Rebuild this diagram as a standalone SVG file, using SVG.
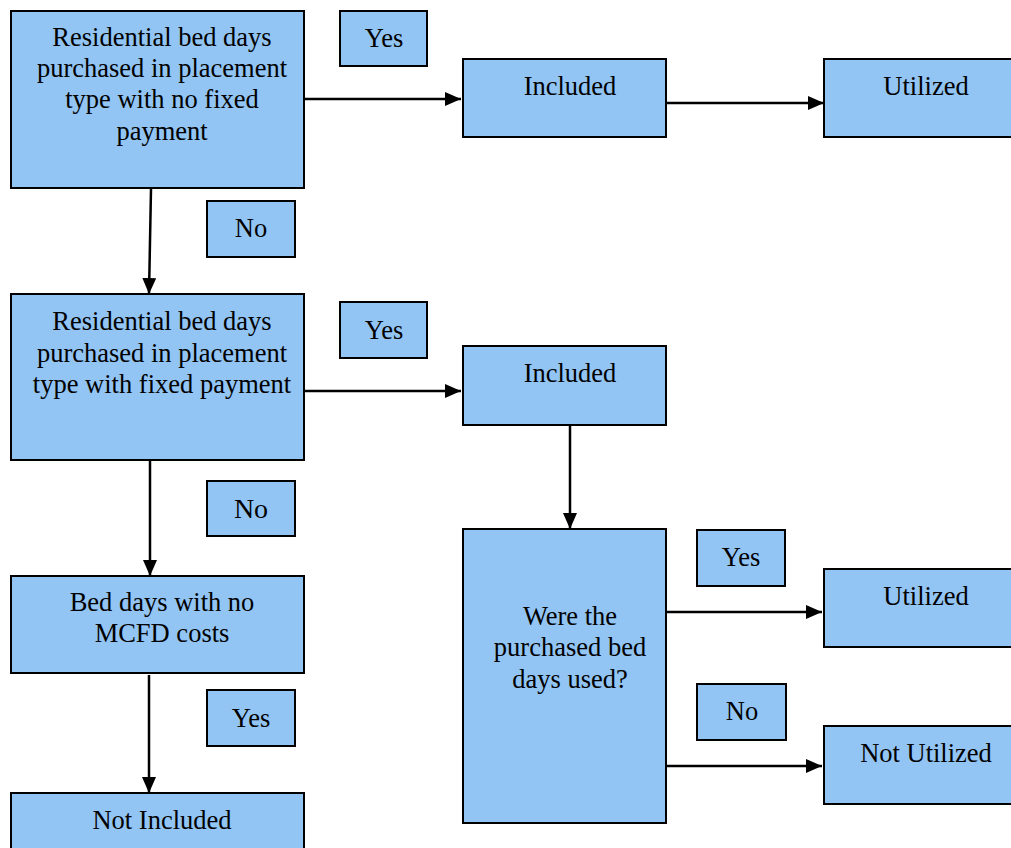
<svg xmlns="http://www.w3.org/2000/svg" width="1011" height="848" viewBox="0 0 1011 848">
<style>
.b{fill:#92C5F4;stroke:#000;stroke-width:2}
.t{font-family:"Liberation Serif","Times New Roman",serif;font-size:26.5px;fill:#000;text-anchor:middle}
.c{stroke:#000;stroke-width:2.5;fill:none}
</style>
<defs>
<marker id="a" viewBox="0 0 16 14" refX="16" refY="7" markerWidth="16" markerHeight="14" markerUnits="userSpaceOnUse" orient="auto"><path d="M0,0 L16,7 L0,14 z" fill="#000"/></marker>
</defs>
<rect width="1011" height="848" fill="#fff"/>
<g id="connectors">
<line class="c" x1="305" y1="99" x2="461" y2="99" marker-end="url(#a)"/>
<line class="c" x1="667" y1="103" x2="824" y2="103" marker-end="url(#a)"/>
<line class="c" x1="151" y1="189" x2="149" y2="294" marker-end="url(#a)"/>
<line class="c" x1="305" y1="391" x2="461" y2="391" marker-end="url(#a)"/>
<line class="c" x1="150" y1="461" x2="150" y2="576" marker-end="url(#a)"/>
<line class="c" x1="149" y1="675" x2="149" y2="793" marker-end="url(#a)"/>
<line class="c" x1="570" y1="423" x2="570" y2="529" marker-end="url(#a)"/>
<line class="c" x1="666" y1="612" x2="822" y2="612" marker-end="url(#a)"/>
<line class="c" x1="666" y1="766" x2="822" y2="766" marker-end="url(#a)"/>
</g>
<g id="n1"><rect class="b" x="11" y="11" width="293" height="177"/>
<text class="t"><tspan x="162" y="46">Residential bed days</tspan><tspan x="162" y="77">purchased in placement</tspan><tspan x="162" y="108">type with no fixed</tspan><tspan x="162" y="140">payment</tspan></text></g>
<g id="yes1"><rect class="b" x="340" y="11" width="87" height="55"/><text class="t" x="384" y="47">Yes</text></g>
<g id="inc1"><rect class="b" x="463" y="59" width="203" height="78"/><text class="t" x="570" y="95">Included</text></g>
<g id="util1"><rect class="b" x="824" y="59" width="190" height="78"/><text class="t" x="926" y="95">Utilized</text></g>
<g id="no1"><rect class="b" x="207" y="201" width="88" height="56"/><text class="t" x="251" y="237">No</text></g>
<g id="n2"><rect class="b" x="11" y="294" width="293" height="166"/>
<text class="t"><tspan x="162" y="330">Residential bed days</tspan><tspan x="162" y="362">purchased in placement</tspan><tspan x="162" y="393">type with fixed payment</tspan></text></g>
<g id="yes2"><rect class="b" x="340" y="302" width="87" height="56"/><text class="t" x="384" y="339">Yes</text></g>
<g id="inc2"><rect class="b" x="463" y="346" width="203" height="79"/><text class="t" x="570" y="382">Included</text></g>
<g id="no2"><rect class="b" x="207" y="481" width="88" height="55"/><text class="t" x="251" y="518" style="font-size:28px">No</text></g>
<g id="n3"><rect class="b" x="11" y="576" width="293" height="97"/>
<text class="t"><tspan x="162" y="611">Bed days with no</tspan><tspan x="162" y="642">MCFD costs</tspan></text></g>
<g id="yes3"><rect class="b" x="207" y="690" width="88" height="56"/><text class="t" x="251" y="727">Yes</text></g>
<g id="n4"><rect class="b" x="11" y="793" width="293" height="60"/><text class="t" x="162" y="829">Not Included</text></g>
<g id="n5"><rect class="b" x="463" y="529" width="203" height="294"/>
<text class="t"><tspan x="570" y="625">Were the</tspan><tspan x="570" y="656">purchased bed</tspan><tspan x="570" y="688">days used?</tspan></text></g>
<g id="yes4"><rect class="b" x="697" y="530" width="88" height="56"/><text class="t" x="741" y="566">Yes</text></g>
<g id="util2"><rect class="b" x="824" y="569" width="190" height="78"/><text class="t" x="926" y="605">Utilized</text></g>
<g id="no4"><rect class="b" x="697" y="684" width="89" height="56"/><text class="t" x="742" y="720">No</text></g>
<g id="notutil"><rect class="b" x="824" y="726" width="190" height="78"/><text class="t" x="926" y="762">Not Utilized</text></g>
</svg>
